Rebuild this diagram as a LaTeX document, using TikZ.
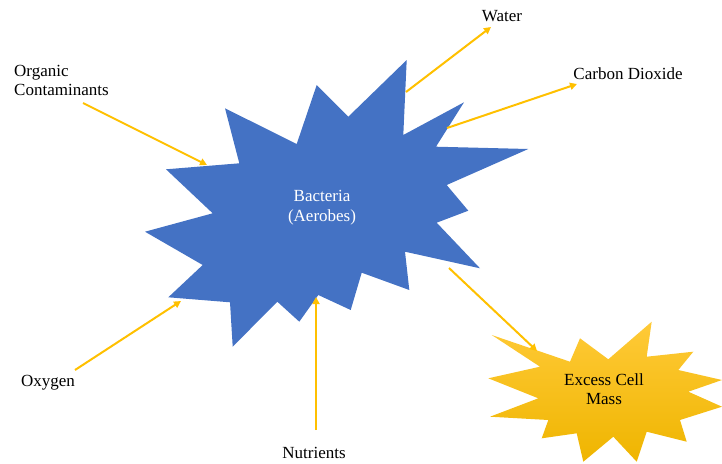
\documentclass[tikz,border=0pt]{standalone}
\usepackage{fontspec}
\setmainfont{Liberation Serif}
\usepackage{xcolor}
\usetikzlibrary{calc,arrows.meta}
\definecolor{bactblue}{HTML}{4472C4}
\definecolor{feedyellow}{HTML}{FFC000}
\definecolor{masstop}{HTML}{FFCA38}
\definecolor{massbot}{HTML}{EFB500}

\begin{document}
\begin{tikzpicture}[x=1pt,y=-1pt]
% This fixes the page to the size of the reference.
\useasboundingbox (0,0) rectangle (722,463);

% This determines how the arrows and labels will look.
\tikzstyle{feed}=[draw=feedyellow,line width=2pt,-{Triangle[length=7pt,width=7pt]}]
\tikzstyle{lbl}=[font=\fontsize{17}{19}\selectfont,inner sep=1pt]

% This draws the bacteria burst.
\fill[bactblue] (406.7,60) -- (403.3,135) -- (464,102.3) -- (436,146.7)
 -- (528.3,149) -- (446.7,185) -- (468.3,210.7) -- (436.7,222.7)
 -- (480,268.3) -- (405,251.7) -- (409.3,290) -- (361.7,272.7)
 -- (350.7,310) -- (318.3,295) -- (299.3,321.7) -- (277.3,301.7)
 -- (232.7,346.7) -- (230,302.3) -- (168.3,297.3) -- (202.7,265)
 -- (145,231.7) -- (212.7,213.3) -- (166,169.3) -- (239.3,163.3)
 -- (225,108.3) -- (296.7,144) -- (316.7,85) -- (348.3,116.7) -- cycle;
\node[lbl,text=white,align=center,font=\fontsize{17}{20}\selectfont] (bact) at (322,208) {Bacteria\\(Aerobes)};

% This draws the excess cell mass burst.
\shade[top color=masstop,bottom color=massbot] (491.7,335) -- (570,361.7)
 -- (580,338.3) -- (608.3,359.3) -- (651.7,321.7) -- (646.7,356.7)
 -- (693.3,351.7) -- (678.3,370) -- (722,380) -- (688.3,391.7)
 -- (722,406.7) -- (680,420) -- (686.7,441.7) -- (646.7,431.7)
 -- (636.7,461.7) -- (613.3,436.7) -- (583.3,461.7) -- (576.7,433.3)
 -- (541.7,438.3) -- (548.3,420) -- (490,416.7) -- (538.3,398.3)
 -- (488.3,378.3) -- (540,366.7) -- cycle;
\node[lbl,align=center] (mass) at (604,389) {Excess Cell\\Mass};

% This places the inputs and outputs.
\node[lbl,align=left,anchor=west] (org) at (13,80) {Organic\\Contaminants};
\node[lbl] (oxy) at (48,383) {Oxygen};
\node[lbl] (nut) at (314,453) {Nutrients};
\node[lbl] (water) at (502,16) {Water};
\node[lbl] (co2) at (628,74) {Carbon Dioxide};

% These are the ends of the arrows on the bursts.
\coordinate (orgA) at (83,103);
\coordinate (orgB) at (207,165);
\coordinate (oxyA) at (75,370);
\coordinate (oxyB) at (181,301);
\coordinate (nutA) at (316,430);
\coordinate (nutB) at (316,297);
\coordinate (watA) at (406,92);
\coordinate (watB) at (491,27);
\coordinate (co2A) at (447,128);
\coordinate (co2B) at (577,84);
\coordinate (massA) at (449,268);
\coordinate (massB) at (537,351);

% This draws the arrows.
\draw[feed] (orgA) -- (orgB);
\draw[feed] (oxyA) -- (oxyB);
\draw[feed] (nutA) -- (nutB);
\draw[feed] (watA) -- (watB);
\draw[feed] (co2A) -- (co2B);
\draw[feed] (massA) -- (massB);

\end{tikzpicture}
\end{document}
